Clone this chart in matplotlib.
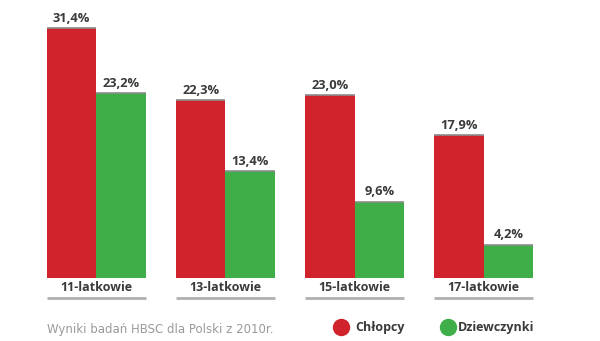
import matplotlib.pyplot as plt
import numpy as np

# data
groups = ['11-latkowie', '13-latkowie', '15-latkowie', '17-latkowie']
boys = [31.4, 22.3, 23.0, 17.9]
girls = [23.2, 13.4, 9.6, 4.2]
series_names = ['Chłopcy', 'Dziewczynki']
note = 'Wyniki badań HBSC dla Polski z 2010r.'

red = '#d0232b'
green = '#3fae49'
dark = '#3a3a3a'
bold_font = 'Open Sans'

plt.rcParams['font.family'] = 'DejaVu Sans'

fig = plt.figure(figsize=(6, 3.41), dpi=100)
ax = fig.add_axes([0, 0.1848, 1, 0.8152])
ax.set_xlim(-0.748, 3.903)
ax.set_ylim(0, 34.92)
ax.axis('off')

x = np.arange(len(groups))
w = 0.384
ax.bar(x - w / 2, boys, w, color=red, linewidth=0)
ax.bar(x + w / 2, girls, w, color=green, linewidth=0)

# thin grey top edge and value labels
for xs, vals in [(x - w / 2, boys), (x + w / 2, girls)]:
    for xi, v in zip(xs, vals):
        ax.plot([xi - w / 2, xi + w / 2], [v, v], color='#8c8c8c', lw=1.2,
                solid_capstyle='butt', clip_on=False)
        ax.annotate(f'{v:.1f}%'.replace('.', ','), (xi, v), xytext=(0, 4.5),
                    textcoords='offset points', ha='center', va='baseline',
                    fontsize=9.3, fontweight='bold', color=dark,
                    family=bold_font)

# category labels with underline
for xi, name in zip(x, groups):
    ax.text(xi, -1.15, name, ha='center', va='center', fontsize=9,
            fontweight='bold', color=dark, clip_on=False, family=bold_font)
    ax.plot([xi - w, xi + w], [-2.55, -2.55], color='#b0b0b0', lw=2,
            solid_capstyle='butt', clip_on=False)

# footnote
fig.text(47 / 600, 1 - 329 / 341, note, ha='left', va='center',
         fontsize=8.5, color='#9a9a9a')

# legend
for cx, tx, col, name in [(341, 355, red, series_names[0]),
                          (448, 458, green, series_names[1])]:
    fig.add_artist(plt.Line2D([cx / 600], [1 - 327 / 341], marker='o',
                              markersize=11.5, color=col, linestyle='none',
                              transform=fig.transFigure))
    fig.text(tx / 600, 1 - 327 / 341, name, ha='left', va='center',
             fontsize=9, fontweight='bold', color=dark, family=bold_font)

plt.savefig('out.png', dpi=100)
